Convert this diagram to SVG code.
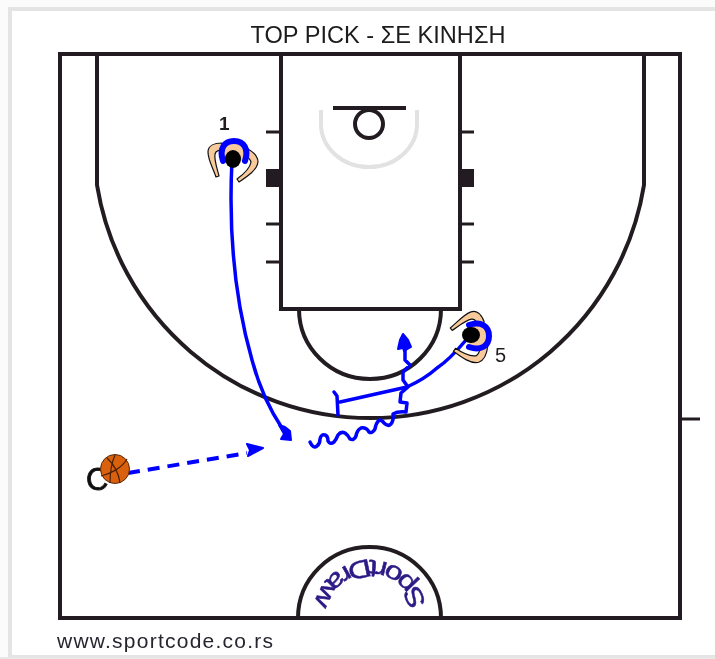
<svg xmlns="http://www.w3.org/2000/svg" width="715" height="659" viewBox="0 0 715 659">
<style>
.court{fill:none;stroke:#231f20;stroke-width:4}
.thin{fill:none;stroke:#231f20;stroke-width:3}
.mv{fill:none;stroke:#0000ff;stroke-width:3.5;stroke-linecap:round;stroke-linejoin:round}
.tip{fill:#00f;stroke:#00f;stroke-width:2;stroke-linejoin:round}
.num{font-family:"Liberation Sans",Arial,sans-serif;fill:#231f20}
.arm{fill:#f7c99b;stroke:#111;stroke-width:1.2;stroke-linejoin:round}
</style>
<defs>
<filter id="soft" x="0" y="0" width="100%" height="100%"><feGaussianBlur stdDeviation="0.4"/></filter>
<g id="arms">
<path class="arm" d="M-12-11C-20-11-26-8-26-2C-26 6-21 14-18 23L-15 22C-17 14-20 6-19 0C-18-4-14-4-11-3Z"/>
<path class="arm" d="M12-6C18-3 24 2 24 8C23 16 14 22 5 28L3 25C10 20 16 14 17 8C16 4 12 2 9 0Z"/>
</g>
<g id="head">
<path d="M-11 7C-15-5-10-13 0-13C10-13 15-5 11 7" fill="#f7c99b" stroke="#0000ff" stroke-width="6" stroke-linecap="round"/>
<ellipse cx="-1" cy="5" rx="8" ry="9" fill="#000"/>
</g>
</defs>
<g filter="url(#soft)">
<rect width="715" height="659" fill="#fbfbfb"/>
<rect x="10" y="9" width="707" height="648" fill="#fff" stroke="#e4e4e4" stroke-width="4"/>
<rect x="0" y="657" width="715" height="2" fill="#e8e8e8"/>
<g id="title"><text x="378" y="43" font-family="Liberation Sans,Arial,sans-serif" font-size="24" text-anchor="middle" fill="#1a1a1a" textLength="255" lengthAdjust="spacingAndGlyphs">TOP PICK - ΣΕ ΚΙΝΗΣΗ</text></g>
<g id="court">
<rect class="court" x="60" y="54" width="620" height="564"/>
<rect class="court" x="281" y="54" width="179" height="255"/>
<path class="court" d="M97 54V185A277 277 0 0 0 644 185V54"/>
<path class="court" d="M299 309A71 70 0 0 0 441 309"/>
<path class="court" d="M298 618A71.5 71 0 0 1 441 618"/>
<path d="M321 110V124A48 43 0 0 0 417 124V110" fill="none" stroke="#e2e2e2" stroke-width="4"/>
<path class="court" d="M333 108H406"/>
<circle class="court" cx="369" cy="124" r="14"/>
<path class="thin" d="M266 132H281M266 224H281M266 262H281M460 132H474M460 224H474M460 262H474M680 419H700"/>
<rect x="266" y="169" width="15" height="18" fill="#231f20"/>
<rect x="460" y="169" width="14" height="18" fill="#231f20"/>
</g>
<g id="logo"><path id="arc" d="M427 617A57 57 0 0 0 313 617" fill="none"/>
<text font-family="Liberation Sans,Arial,sans-serif" font-size="25" fill="#2d1a85" stroke="#2d1a85" stroke-width=".5"><textPath href="#arc" startOffset="13" textLength="152" lengthAdjust="spacingAndGlyphs">SportDraw</textPath></text></g>
<g id="connectors">
<path class="mv" d="M232 160C229 220 232 290 252 360C260 390 270 410 282 428"/>
<path class="tip" d="M279 425L285 427L290 431L291 440L281 439L284 434Z"/>
<path class="mv" d="M128 473L247 453" stroke-dasharray="12 8" style="stroke-linecap:butt;stroke-width:4"/>
<path class="tip" d="M247 444L263 448L248 456L250 450Z"/>
<path class="mv" d="M466 340C456 352 446 362 437 368C428 376 418 382 407 387L340 402"/>
<path class="mv" d="M334 392L337 396L338 415"/>
<path class="mv" d="M310 442Q313 449 317 446Q320 444 320 439Q321 434 325 435Q328 436 328 441Q330 445 334 442Q336 440 338 435Q341 431 345 433Q348 435 350 439Q354 441 356 436Q357 430 361 428Q366 427 369 432Q372 434 375 429Q376 423 379 420Q382 420 384 423Q388 427 391 424Q394 420 393 414Q398 411 406 412L407 403L400 402L401 393L408 387L403 380L403 372L410 365L405 360L405 348"/>
<path class="tip" d="M403 334L400 340L398 349L403 348L404 351L411 347L408 340Z"/>
</g>
<g id="player1"><use href="#arms" transform="translate(234 154)"/><use href="#head" transform="translate(234 154)"/><text class="num" x="219" y="130" font-size="19" font-weight="bold">1</text></g>
<g id="player5"><use href="#arms" transform="translate(478 337) rotate(70)"/><use href="#head" transform="translate(476 336) rotate(90)"/><text class="num" x="495" y="362" font-size="20">5</text></g>
<g id="ballhandler">
<text x="86" y="490" font-family="Liberation Sans,Arial,sans-serif" font-size="31" fill="#111" stroke="#111" stroke-width=".8">C</text>
<circle cx="115" cy="469" r="14.5" fill="#d9600f" stroke="#5a2a08" stroke-width="1"/>
<path d="M101 476C110 474 122 468 127 459M107 458C114 464 119 474 120 483M115 455C111 464 110 474 110 483" fill="none" stroke="#4a2006" stroke-width="1.2"/>
</g>
<g id="footer"><text x="57" y="648" font-family="Liberation Sans,Arial,sans-serif" font-size="21" fill="#26262e" textLength="216">www.sportcode.co.rs</text></g>
</g>
</svg>
